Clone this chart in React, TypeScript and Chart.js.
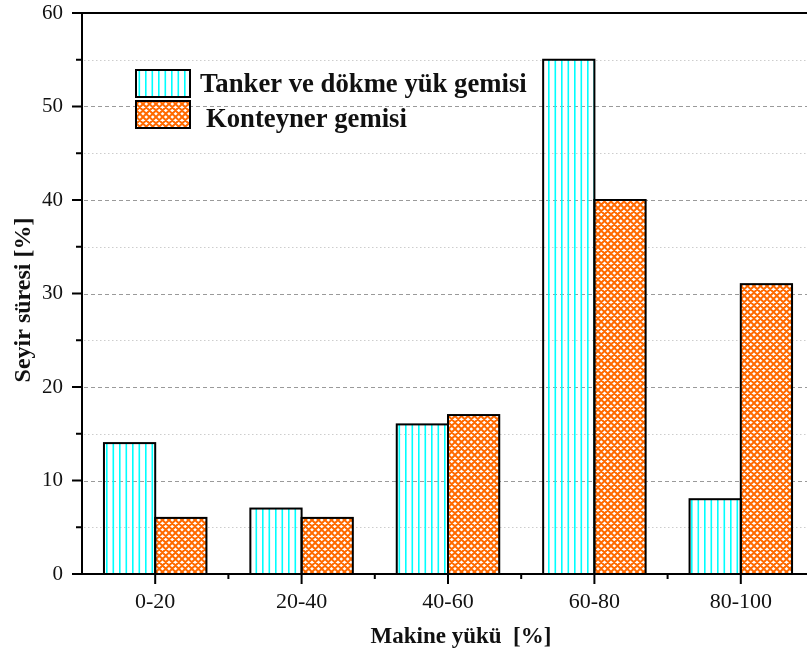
import { useEffect, useRef } from "react";
import { Chart, registerables } from "chart.js";

Chart.register(...registerables);

// Engine load bins and share of voyage time per ship type
const categories = ["0-20", "20-40", "40-60", "60-80", "80-100"];
const tankerValues = [14, 7, 16, 55, 8];
const containerValues = [6, 6, 17, 40, 31];
const seriesLabels = ["Tanker ve dökme yük gemisi", "Konteyner gemisi"];
const yMin = 0;
const yMax = 60;
const yStep = 10;
const xTitle = "Makine yükü  [%]";
const yTitle = "Seyir süresi [%]";

const SERIF = '"Liberation Serif", "Times New Roman", Times, serif';
const CYAN = "#00ffff";
const ORANGE = "#ff6a00";

function makeStripePattern(ctx: CanvasRenderingContext2D): CanvasPattern {
  const tile = document.createElement("canvas");
  tile.width = 13;
  tile.height = 13;
  const t = tile.getContext("2d")!;
  t.fillStyle = CYAN;
  t.fillRect(2, 0, 1.6, 13);
  t.fillRect(8.5, 0, 1.6, 13);
  return ctx.createPattern(tile, "repeat")!;
}

function makeCrossPattern(ctx: CanvasRenderingContext2D): CanvasPattern {
  const size = 13;
  const step = 6.5;
  const tile = document.createElement("canvas");
  tile.width = size;
  tile.height = size;
  const t = tile.getContext("2d")!;
  t.fillStyle = "#ffffff";
  t.fillRect(0, 0, size, size);
  t.strokeStyle = ORANGE;
  t.lineWidth = 2;
  t.beginPath();
  for (let k = -4; k <= 4; k++) {
    const o = k * step;
    t.moveTo(o - 2, -2);
    t.lineTo(o + size + 2, size + 2);
    t.moveTo(o - 2, size + 2);
    t.lineTo(o + size + 2, -2);
  }
  t.stroke();
  return ctx.createPattern(tile, "repeat")!;
}

export default function App() {
  const canvasRef = useRef<HTMLCanvasElement | null>(null);

  useEffect(() => {
    const canvas = canvasRef.current;
    if (!canvas) return;
    const ctx = canvas.getContext("2d")!;
    const stripes = makeStripePattern(ctx);
    const cross = makeCrossPattern(ctx);
    const fills = [stripes, cross];

    const framePlugin = {
      id: "frame",
      beforeDatasetsDraw(chart: any) {
        const c = chart.ctx as CanvasRenderingContext2D;
        const { left, right } = chart.chartArea;
        const y = chart.scales.y;
        c.save();
        c.lineWidth = 1;
        for (let v = yMin + yStep / 2; v < yMax; v += yStep / 2) {
          const py = Math.round(y.getPixelForValue(v)) + 0.5;
          const major = Math.abs(v % yStep) < 1e-9;
          c.strokeStyle = major ? "#9a9a9a" : "#cdcdcd";
          c.setLineDash(major ? [4, 3] : [1.5, 2.5]);
          c.beginPath();
          c.moveTo(left + 2, py);
          c.lineTo(right, py);
          c.stroke();
        }
        c.restore();
      },
      afterDatasetsDraw(chart: any) {
        const c = chart.ctx as CanvasRenderingContext2D;
        const { left, right, top, bottom } = chart.chartArea;
        const x = chart.scales.x;
        const y = chart.scales.y;
        c.save();
        // bar outlines
        c.strokeStyle = "#000";
        c.lineWidth = 2;
        chart.data.datasets.forEach((_: any, di: number) => {
          const meta = chart.getDatasetMeta(di);
          meta.data.forEach((bar: any) => {
            const p = bar.getProps(["x", "y", "base", "width"], true);
            const x0 = p.x - p.width / 2;
            c.strokeRect(x0, p.y, p.width, p.base - p.y);
          });
        });
        // axes
        c.lineWidth = 2;
        c.beginPath();
        c.moveTo(left, top - 1);
        c.lineTo(left, bottom + 1);
        c.moveTo(left - 10, top);
        c.lineTo(right, top);
        c.moveTo(left - 1, bottom);
        c.lineTo(right, bottom);
        // y ticks
        for (let v = yMin; v <= yMax; v += yStep / 2) {
          const py = y.getPixelForValue(v);
          const major = Math.abs(v % yStep) < 1e-9;
          c.moveTo(left - (major ? 10 : 6), py);
          c.lineTo(left, py);
        }
        // x ticks
        for (let i = 0; i < categories.length; i++) {
          const px = x.getPixelForValue(i);
          c.moveTo(px, bottom);
          c.lineTo(px, bottom + 10);
          if (i < categories.length - 1) {
            const mid = (px + x.getPixelForValue(i + 1)) / 2;
            c.moveTo(mid, bottom);
            c.lineTo(mid, bottom + 5);
          }
        }
        c.stroke();
        c.restore();
      },
      afterDraw(chart: any) {
        const c = chart.ctx as CanvasRenderingContext2D;
        c.save();
        // legend
        const boxes = [
          { y: 70, textX: 200, base: 92 },
          { y: 101, textX: 206, base: 127 },
        ];
        boxes.forEach((b, i) => {
          c.fillStyle = fills[i];
          c.fillRect(136, b.y, 54, 27);
          c.strokeStyle = "#000";
          c.lineWidth = 2;
          c.strokeRect(136, b.y, 54, 27);
          c.fillStyle = "#111";
          c.font = `bold 26.7px ${SERIF}`;
          c.textAlign = "left";
          c.textBaseline = "alphabetic";
          c.fillText(seriesLabels[i], b.textX, b.base);
        });
        // axis titles
        c.fillStyle = "#111";
        c.font = `bold 23px ${SERIF}`;
        c.textAlign = "center";
        c.textBaseline = "alphabetic";
        c.fillText(xTitle, 461, 643);
        c.translate(30, 300);
        c.rotate(-Math.PI / 2);
        c.font = `bold 24px ${SERIF}`;
        c.fillText(yTitle, 0, 0);
        c.restore();
      },
    };

    const chart = new Chart(canvas, {
      type: "bar",
      data: {
        labels: categories,
        datasets: [
          {
            label: seriesLabels[0],
            data: tankerValues,
            backgroundColor: stripes,
            borderWidth: 0,
            barPercentage: 1,
            categoryPercentage: 0.7,
          },
          {
            label: seriesLabels[1],
            data: containerValues,
            backgroundColor: cross,
            borderWidth: 0,
            barPercentage: 1,
            categoryPercentage: 0.7,
          },
        ],
      },
      options: {
        responsive: false,
        animation: false,
        events: [],
        layout: { padding: { top: 13, right: 6, left: 0, bottom: 0 } },
        plugins: {
          legend: { display: false },
          tooltip: { enabled: false },
        },
        scales: {
          x: {
            grid: { display: false, drawTicks: false },
            border: { display: false },
            ticks: {
              color: "#111",
              font: { family: SERIF, size: 22 },
              padding: 15,
              maxRotation: 0,
            },
            afterFit: (s: any) => {
              s.height = 78;
              s.paddingLeft = 0;
              s.paddingRight = 0;
            },
          },
          y: {
            min: yMin,
            max: yMax,
            grid: { display: false, drawTicks: false },
            border: { display: false },
            ticks: {
              stepSize: yStep,
              color: "#111",
              font: { family: SERIF, size: 21 },
              padding: 19,
            },
            afterFit: (s: any) => {
              s.width = 82;
              s.paddingTop = 0;
              s.paddingBottom = 0;
            },
          },
        },
      },
      plugins: [framePlugin],
    });

    return () => chart.destroy();
  }, []);

  return (
    <div
      style={{
        position: "fixed",
        left: 0,
        top: 0,
        width: 807,
        height: 652,
        overflow: "hidden",
        background: "#fff",
      }}
    >
      <canvas ref={canvasRef} width={820} height={652} style={{ display: "block" }} />
    </div>
  );
}
